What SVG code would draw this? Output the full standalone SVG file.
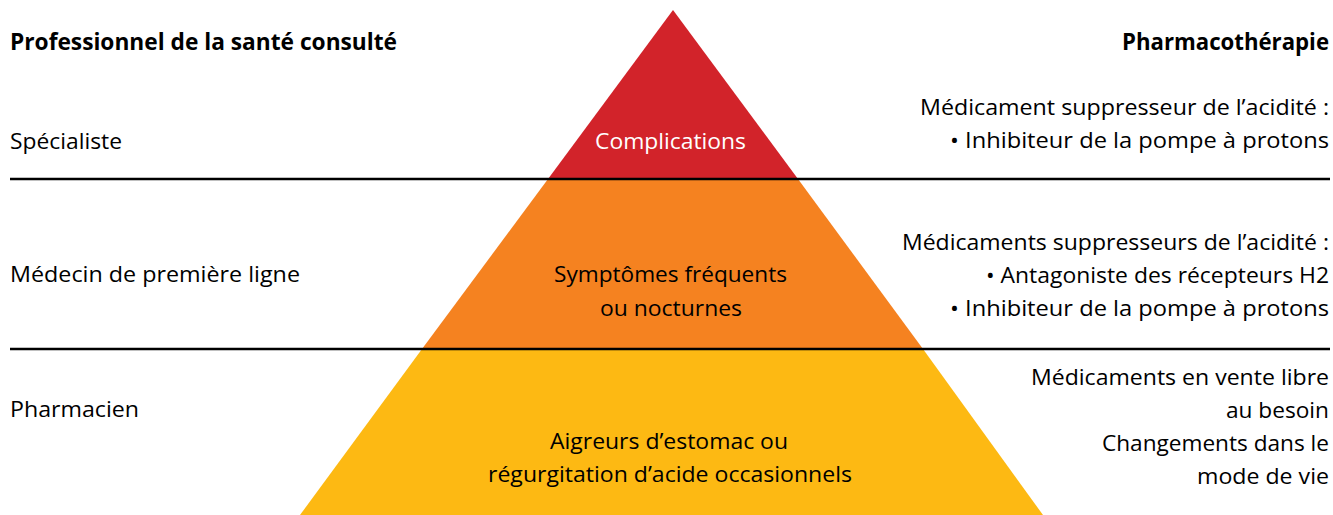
<svg xmlns="http://www.w3.org/2000/svg" width="1333" height="515" viewBox="0 0 1333 515">
<style>
text{font-family:"Open Sans","Liberation Sans",sans-serif;font-size:22.5px;fill:#000}
.b{font-weight:bold}
.r{text-anchor:end}
.c{text-anchor:middle}
.w{fill:#fff}
.sep{stroke:#000;stroke-width:2.5;fill:none}
</style>
<rect width="1333" height="515" fill="#fff"/>
<g id="tier-top">
<polygon points="673,10 548,179 798,179" fill="#D2232A"/>
<text class="c w" x="670.5" y="149" textLength="151" lengthAdjust="spacingAndGlyphs">Complications</text>
</g>
<g id="tier-middle">
<polygon points="548,179 798,179 923,349 422,349" fill="#F58220"/>
<text class="c" x="670.5" y="282" textLength="233" lengthAdjust="spacingAndGlyphs">Symptômes fréquents</text>
<text class="c" x="671" y="316" textLength="142" lengthAdjust="spacingAndGlyphs">ou nocturnes</text>
</g>
<g id="tier-bottom">
<polygon points="422,349 923,349 1043,515 300,515" fill="#FDB913"/>
<text class="c" x="669" y="449" textLength="238" lengthAdjust="spacingAndGlyphs">Aigreurs d’estomac ou</text>
<text class="c" x="670" y="482" textLength="364" lengthAdjust="spacingAndGlyphs">régurgitation d’acide occasionnels</text>
</g>
<g id="connectors">
<line class="sep" x1="10" y1="179" x2="1330" y2="179"/>
<line class="sep" x1="10" y1="349" x2="1330" y2="349"/>
</g>
<g id="header-left"><text class="b" x="10" y="50" textLength="387" lengthAdjust="spacingAndGlyphs">Professionnel de la santé consulté</text></g>
<g id="header-right"><text class="b r" x="1329" y="50" textLength="207" lengthAdjust="spacingAndGlyphs">Pharmacothérapie</text></g>
<g id="left-specialiste"><text x="10" y="149" textLength="112" lengthAdjust="spacingAndGlyphs">Spécialiste</text></g>
<g id="left-medecin"><text x="10" y="282" textLength="290" lengthAdjust="spacingAndGlyphs">Médecin de première ligne</text></g>
<g id="left-pharmacien"><text x="10" y="417" textLength="129" lengthAdjust="spacingAndGlyphs">Pharmacien</text></g>
<g id="right-top">
<text class="r" x="1329" y="115" textLength="409" lengthAdjust="spacingAndGlyphs">Médicament suppresseur de l’acidité :</text>
<text class="r" x="1329" y="148" textLength="379" lengthAdjust="spacingAndGlyphs">• Inhibiteur de la pompe à protons</text>
</g>
<g id="right-middle">
<text class="r" x="1329" y="250" textLength="427" lengthAdjust="spacingAndGlyphs">Médicaments suppresseurs de l’acidité :</text>
<text class="r" x="1329" y="283" textLength="343" lengthAdjust="spacingAndGlyphs">• Antagoniste des récepteurs H2</text>
<text class="r" x="1329" y="316" textLength="379" lengthAdjust="spacingAndGlyphs">• Inhibiteur de la pompe à protons</text>
</g>
<g id="right-bottom">
<text class="r" x="1329" y="385" textLength="298" lengthAdjust="spacingAndGlyphs">Médicaments en vente libre</text>
<text class="r" x="1329" y="418" textLength="103" lengthAdjust="spacingAndGlyphs">au besoin</text>
<text class="r" x="1329" y="451" textLength="227" lengthAdjust="spacingAndGlyphs">Changements dans le</text>
<text class="r" x="1329" y="484" textLength="132" lengthAdjust="spacingAndGlyphs">mode de vie</text>
</g>
</svg>
